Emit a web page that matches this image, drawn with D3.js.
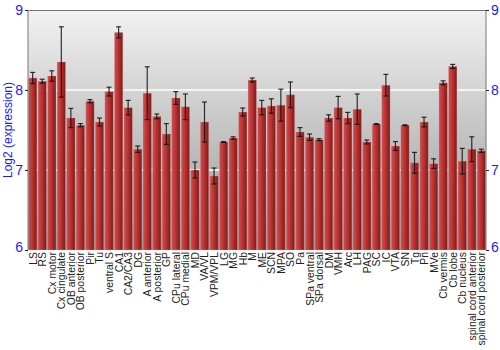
<!DOCTYPE html>
<html lang="en">
<head>
  <meta charset="UTF-8">
  <script src="https://cdn.jsdelivr.net/npm/d3@7"></script>
  <style>
    body { margin: 0; background: #fff; }
    text { font-family: "Liberation Sans", Arial, sans-serif; }
  </style>
</head>
<body>
  <div id="wrapper"></div>
  <script>
    // regions, mean log2 expression, error (half-length)
    const regions = ["LS", "RS", "Cx motor", "Cx cingulate", "OB anterior", "OB posterior", "Pir", "Tu",
      "ventral S", "CA1", "CA2/CA3", "DG", "A anterior", "A posterior", "GP", "CPu lateral", "CPu medial",
      "MD", "VA/VL", "VPM/VPL", "LG", "MG", "Hb", "M", "ME", "SCN", "MPA", "SO", "Pa", "SPa ventral",
      "SPa dorsal", "DM", "VMH", "Arc", "LH", "PAG", "SC", "IC", "VTA", "SN", "Tg", "Pn", "MVe",
      "Cb vermis", "Cb lobe", "Cb nucleus", "spinal cord anterior", "spinal cord posterior"];
    const values = [8.15, 8.11, 8.175, 8.35, 7.65, 7.56, 7.86, 7.60,
      7.98, 8.72, 7.78, 7.26, 7.96, 7.67, 7.45, 7.90, 7.79,
      7.00, 7.60, 6.925, 7.35, 7.40, 7.725, 8.125, 7.78, 7.80, 7.81, 7.94, 7.475, 7.41,
      7.38, 7.65, 7.78, 7.65, 7.76, 7.35, 7.575, 8.06, 7.30, 7.56, 7.09, 7.60, 7.08,
      8.09, 8.295, 7.11, 7.26, 7.24];
    const errors = [0.07, 0.025, 0.065, 0.44, 0.12, 0.02, 0.02, 0.05,
      0.055, 0.07, 0.09, 0.04, 0.33, 0.03, 0.13, 0.08, 0.16,
      0.10, 0.25, 0.10, 0.005, 0.015, 0.05, 0.025, 0.09, 0.09, 0.20, 0.16, 0.055, 0.04,
      0.012, 0.04, 0.14, 0.07, 0.19, 0.025, 0.005, 0.135, 0.055, 0.005, 0.13, 0.06, 0.06,
      0.025, 0.025, 0.16, 0.155, 0.02];
    const yTicks = [6, 7, 8, 9];

    const data = regions.map((r, i) => ({ region: r, value: values[i], err: errors[i] }));

    const width = 500;
    const height = 350;
    const margin = { top: 10, right: 14, bottom: 100, left: 28 };
    const boundedWidth = width - margin.left - margin.right;
    const boundedHeight = height - margin.top - margin.bottom;

    const svg = d3.select("#wrapper")
      .append("svg")
      .attr("width", width)
      .attr("height", height)
      .style("display", "block");

    const defs = svg.append("defs");
    const bg = defs.append("linearGradient")
      .attr("id", "bg-grad")
      .attr("x1", 0).attr("y1", 0).attr("x2", 0).attr("y2", 1);
    bg.append("stop").attr("offset", "0%").attr("stop-color", "#f2f2f2");
    bg.append("stop").attr("offset", "100%").attr("stop-color", "#979797");

    const barGrad = defs.append("linearGradient")
      .attr("id", "bar-grad")
      .attr("x1", 0).attr("y1", 0).attr("x2", 1).attr("y2", 0);
    barGrad.append("stop").attr("offset", "0%").attr("stop-color", "#b55a5a");
    barGrad.append("stop").attr("offset", "15%").attr("stop-color", "#cc4444");
    barGrad.append("stop").attr("offset", "45%").attr("stop-color", "#bb3333");
    barGrad.append("stop").attr("offset", "100%").attr("stop-color", "#7d1a1a");

    const bounds = svg.append("g")
      .attr("transform", `translate(${margin.left},${margin.top})`);

    const xScale = d3.scaleBand()
      .domain(regions)
      .range([0, boundedWidth])
      .paddingInner(0.12)
      .paddingOuter(0.05);

    const yScale = d3.scaleLinear()
      .domain([6, 9])
      .range([boundedHeight, 0]);

    // background
    bounds.append("rect")
      .attr("width", boundedWidth)
      .attr("height", boundedHeight)
      .attr("fill", "url(#bg-grad)");

    // grid lines
    bounds.selectAll(".grid")
      .data([7, 8])
      .join("line")
      .attr("x1", 0)
      .attr("x2", boundedWidth)
      .attr("y1", d => yScale(d))
      .attr("y2", d => yScale(d))
      .attr("stroke", "#ffffff")
      .attr("stroke-opacity", 0.75)
      .attr("stroke-width", 2);

    // bars
    bounds.selectAll(".bar")
      .data(data)
      .join("rect")
      .attr("x", d => xScale(d.region))
      .attr("y", d => yScale(d.value))
      .attr("width", xScale.bandwidth())
      .attr("height", d => boundedHeight - yScale(d.value))
      .attr("fill", "url(#bar-grad)")
      .attr("stroke", "#e8b0b0")
      .attr("stroke-opacity", 0.35)
      .attr("stroke-width", 0.8);

    // error bars
    const errG = bounds.append("g")
      .attr("stroke", "#111")
      .attr("stroke-opacity", 0.85)
      .attr("stroke-width", 1.2);
    const cx = d => xScale(d.region) + xScale.bandwidth() / 2;
    errG.selectAll(".err")
      .data(data)
      .join("line")
      .attr("x1", cx).attr("x2", cx)
      .attr("y1", d => yScale(d.value + d.err))
      .attr("y2", d => yScale(d.value - d.err));
    errG.selectAll(".cap-top")
      .data(data)
      .join("line")
      .attr("x1", d => cx(d) - 2.5).attr("x2", d => cx(d) + 2.5)
      .attr("y1", d => yScale(d.value + d.err))
      .attr("y2", d => yScale(d.value + d.err));
    errG.selectAll(".cap-bottom")
      .data(data)
      .join("line")
      .attr("x1", d => cx(d) - 2.5).attr("x2", d => cx(d) + 2.5)
      .attr("y1", d => yScale(d.value - d.err))
      .attr("y2", d => yScale(d.value - d.err));

    // frame
    bounds.append("line")
      .attr("x1", 0).attr("x2", boundedWidth)
      .attr("y1", 0.5).attr("y2", 0.5)
      .attr("stroke", "#777");

    // axes
    const yAxisLeft = bounds.append("g")
      .call(d3.axisLeft(yScale).tickValues(yTicks).tickFormat(d3.format("d")).tickSize(3).tickPadding(2));
    const yAxisRight = bounds.append("g")
      .attr("transform", `translate(${boundedWidth},0)`)
      .call(d3.axisRight(yScale).tickValues(yTicks).tickFormat(d3.format("d")).tickSize(3).tickPadding(2));
    [yAxisLeft, yAxisRight].forEach(ax => {
      ax.select(".domain").attr("stroke", "#777").attr("d", `M0,0V${boundedHeight}`);
      ax.selectAll(".tick line").attr("stroke", "#222");
      ax.selectAll(".tick text")
        .attr("fill", "#1a1aff")
        .style("font-size", "14px")
        .style("font-family", "'Liberation Sans', Arial, sans-serif");
    });
    yAxisLeft.selectAll(".tick").filter(d => d === 6).select("text").attr("dy", "0.1em");
    yAxisRight.selectAll(".tick").filter(d => d === 6).select("text").attr("dy", "0.1em");

    // x labels
    bounds.selectAll(".xlabel")
      .data(data)
      .join("text")
      .attr("transform", d => `translate(${cx(d) + 4},${boundedHeight + 2}) rotate(-90)`)
      .attr("text-anchor", "end")
      .attr("fill", "#222")
      .style("font-size", "10.4px")
      .text(d => d.region);

    // y label
    svg.append("text")
      .attr("transform", `translate(${12},${margin.top + boundedHeight / 2}) rotate(-90)`)
      .attr("text-anchor", "middle")
      .attr("fill", "#1a1aff")
      .style("font-size", "12px")
      .text("Log2 (expression)");
  </script>
</body>
</html>
